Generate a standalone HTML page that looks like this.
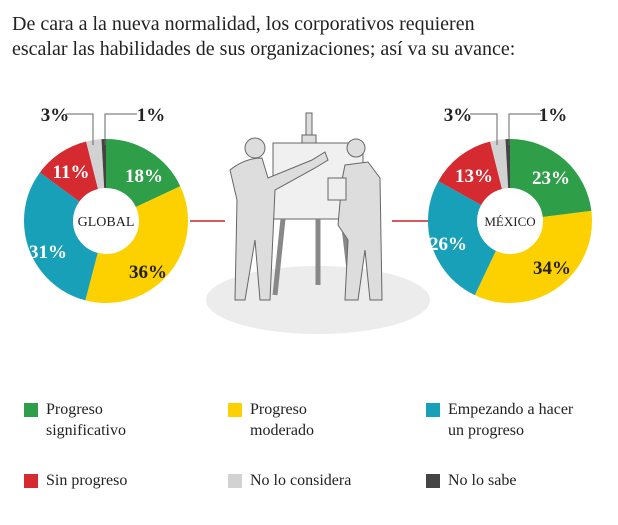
<!DOCTYPE html>
<html><head><meta charset="utf-8"><style>
body{margin:0;background:#fff;width:618px;height:525px;overflow:hidden;font-family:"Liberation Serif",serif;}
.t{position:absolute;left:12px;top:12px;font-size:20px;line-height:25px;color:#222;}
.lg{position:absolute;font-size:16px;line-height:21px;color:#222;}
.sq{position:absolute;width:14px;height:14px;}
</style></head><body>
<div class="t">De cara a la nueva normalidad, los corporativos requieren<br>escalar las habilidades de sus organizaciones; así va su avance:</div>
<svg width="618" height="525" style="position:absolute;left:0;top:0" font-family="Liberation Serif, serif">
<ellipse cx="318" cy="300" rx="112" ry="34" fill="#ececec"/>
<line x1="190" y1="221" x2="225" y2="221" stroke="#c8252b" stroke-width="1.5"/>
<line x1="392" y1="221" x2="428" y2="221" stroke="#c8252b" stroke-width="1.5"/>
<!-- illustration -->
<g fill="#ddd" stroke="#666" stroke-width="1">
<rect x="306" y="113" width="6" height="22"/><rect x="302" y="135" width="14" height="10"/>
<rect x="273" y="143" width="90" height="76" fill="#f0f0f0"/>
<path d="M283 219 L275 295 M343 219 L352 295 M318 219 L318 285" stroke-width="5" stroke="#888"/>
<path d="M230 170 Q245 158 262 158 L268 178 L312 160 L325 152 L328 160 L315 168 L275 190 L270 300 L260 300 L255 240 L245 300 L235 300 L237 200 Z"/>
<circle cx="255" cy="148" r="10"/>
<path d="M345 165 L368 162 L380 178 L382 300 L370 300 L365 250 L358 300 L345 300 L348 240 L338 225 L342 180 Z"/>
<circle cx="356" cy="148" r="9"/>
<rect x="328" y="178" width="18" height="22" fill="#eee"/>
</g>
<!-- donuts -->
<g transform="rotate(-90 106 221)" fill="none" stroke-width="49">
<circle cx="106" cy="221" r="57.5" stroke="#2e9e48" stroke-dasharray="65.03 400"/>
<circle cx="106" cy="221" r="57.5" stroke="#fdd000" stroke-dasharray="0 65.03 130.06 400"/>
<circle cx="106" cy="221" r="57.5" stroke="#17a0b8" stroke-dasharray="0 195.09 112 400"/>
<circle cx="106" cy="221" r="57.5" stroke="#d42a30" stroke-dasharray="0 307.09 39.74 400"/>
<circle cx="106" cy="221" r="57.5" stroke="#d2d2d2" stroke-dasharray="0 346.83 10.84 400"/>
<circle cx="106" cy="221" r="57.5" stroke="#444" stroke-dasharray="0 357.67 3.61 400"/>
</g>
<g transform="rotate(-90 510 221)" fill="none" stroke-width="49">
<circle cx="510" cy="221" r="57.5" stroke="#2e9e48" stroke-dasharray="83.09 400"/>
<circle cx="510" cy="221" r="57.5" stroke="#fdd000" stroke-dasharray="0 83.09 122.84 400"/>
<circle cx="510" cy="221" r="57.5" stroke="#17a0b8" stroke-dasharray="0 205.93 93.93 400"/>
<circle cx="510" cy="221" r="57.5" stroke="#d42a30" stroke-dasharray="0 299.86 46.97 400"/>
<circle cx="510" cy="221" r="57.5" stroke="#d2d2d2" stroke-dasharray="0 346.83 10.84 400"/>
<circle cx="510" cy="221" r="57.5" stroke="#444" stroke-dasharray="0 357.67 3.61 400"/>
</g>
<g stroke="#666" fill="none" stroke-width="1">
<path d="M66 114 H93 V145 M137 114 H105 V145"/>
<path d="M470 114 H497 V145 M541 114 H509 V145"/>
</g>
<g font-weight="bold" font-size="19" text-anchor="middle" fill="#fff">
<text x="144" y="182">18%</text><text x="148" y="278" fill="#222">36%</text>
<text x="48" y="258">31%</text><text x="71" y="178">11%</text>
<text x="55" y="121" fill="#222">3%</text><text x="151" y="121" fill="#222">1%</text>
<text x="551" y="184">23%</text><text x="552" y="274" fill="#222">34%</text>
<text x="448" y="250">26%</text><text x="474" y="182">13%</text>
<text x="458" y="121" fill="#222">3%</text><text x="553" y="121" fill="#222">1%</text>
</g>
<text x="106" y="226" font-size="14" text-anchor="middle" fill="#222">GLOBAL</text>
<text x="510" y="226" font-size="13" text-anchor="middle" fill="#222">MÉXICO</text>
</svg>
<div class="sq" style="left:24px;top:403px;background:#2e9e48"></div><div class="lg" style="left:46px;top:399px">Progreso<br>significativo</div>
<div class="sq" style="left:228px;top:403px;background:#fdd000"></div><div class="lg" style="left:250px;top:399px">Progreso<br>moderado</div>
<div class="sq" style="left:426px;top:403px;background:#17a0b8"></div><div class="lg" style="left:448px;top:399px">Empezando a hacer<br>un progreso</div>
<div class="sq" style="left:24px;top:474px;background:#d42a30"></div><div class="lg" style="left:46px;top:470px">Sin progreso</div>
<div class="sq" style="left:228px;top:474px;background:#d2d2d2"></div><div class="lg" style="left:250px;top:470px">No lo considera</div>
<div class="sq" style="left:426px;top:474px;background:#444"></div><div class="lg" style="left:448px;top:470px">No lo sabe</div>
</body></html>
